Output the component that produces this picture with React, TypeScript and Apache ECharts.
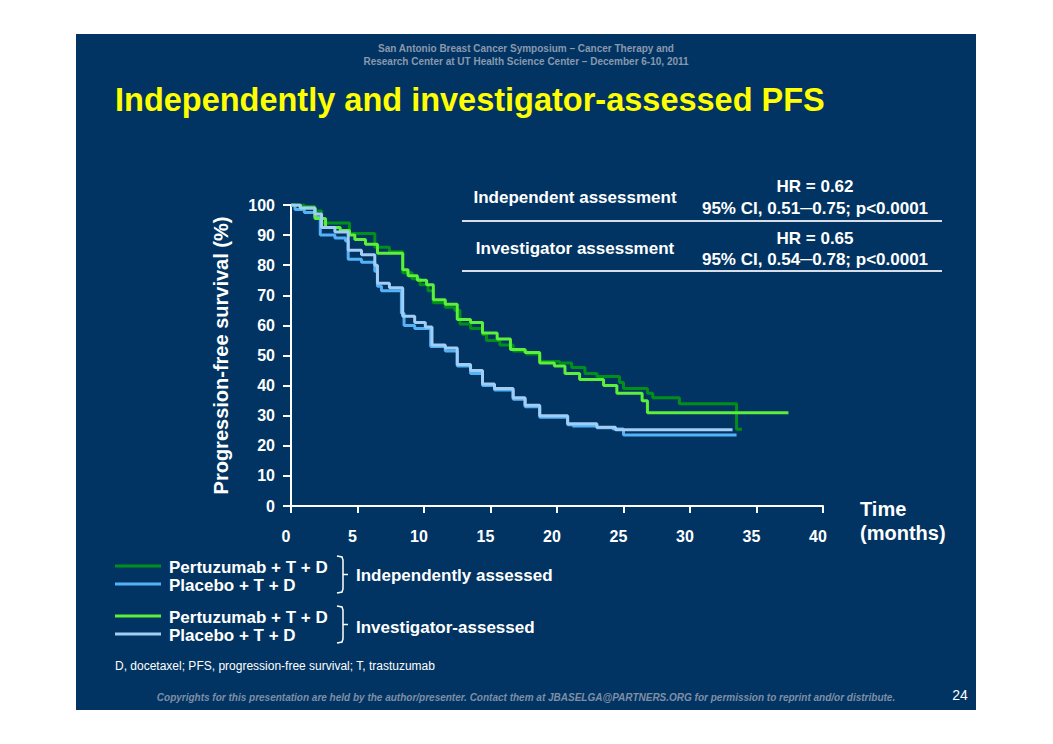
import React, { useEffect, useRef } from "react";
import * as echarts from "echarts";

// Kaplan-Meier step points: [months, PFS %] (value after the step at that time)
const pertuzumabIndependent: number[][] = [
  [0, 100], [1.0, 99.5], [1.8, 98], [2.3, 94], [4.4, 90.5], [6.3, 86], [7.4, 84.5],
  [8.4, 77.5], [9.1, 75.5], [9.7, 73.5], [10.3, 71.5], [10.7, 67.5], [11.6, 66],
  [12.3, 65], [12.7, 60.5], [13.5, 59], [14.4, 57], [14.7, 55], [15.7, 53.5],
  [16.7, 51.5], [17.7, 50.5], [18.7, 48], [20.2, 47.5], [21.1, 46], [22.1, 44],
  [23.0, 43], [24.7, 41], [25.0, 39], [26.8, 37.5], [27.2, 36], [29.2, 34],
  [33.5, 25.5], [33.9, 25.5],
];
const placeboIndependent: number[][] = [
  [0, 100], [0.3, 98.5], [1.0, 97.5], [1.8, 96], [2.2, 90], [3.3, 89], [4.1, 88],
  [4.3, 82], [5.3, 81], [6.3, 78], [6.5, 73], [6.8, 71.5], [8.3, 64], [8.5, 60],
  [9.3, 59], [10.5, 53], [11.6, 51.5], [12.5, 46.5], [13.5, 44], [14.4, 40],
  [15.3, 38.5], [16.7, 35.5], [17.6, 33], [18.7, 29.5], [20.8, 27], [21.2, 26.6],
  [23.0, 26], [24.2, 25.6], [25.0, 23.6], [33.5, 23.6],
];
const pertuzumabInvestigator: number[][] = [
  [0, 100], [0.7, 99], [1.8, 95.5], [2.6, 92.5], [3.7, 91.5], [4.4, 90], [4.8, 88.5],
  [5.6, 87], [6.5, 84], [8.4, 78.5], [8.8, 76.5], [9.5, 75], [10.2, 73.5],
  [10.7, 68.5], [11.6, 67], [12.5, 62], [13.5, 61], [14.4, 57.5], [15.5, 55.5],
  [16.5, 52], [17.6, 51], [18.7, 47.5], [19.8, 46.5], [20.6, 44], [21.7, 42],
  [23.5, 40], [24.5, 37.5], [26.4, 35], [26.8, 31], [37.4, 31],
];
const placeboInvestigator: number[][] = [
  [0, 100], [0.7, 99], [1.8, 97], [2.3, 92.5], [3.3, 91], [4.3, 85], [5.3, 83.5],
  [6.3, 80], [6.5, 74], [7.4, 72.5], [8.4, 63], [9.3, 61], [10.1, 59.5],
  [10.6, 53.5], [11.6, 52.5], [12.5, 47], [13.5, 45], [14.4, 40.5], [15.3, 39],
  [16.7, 36], [17.6, 33.5], [18.7, 30], [20.8, 27.3], [23.0, 26.2], [24.4, 25.3],
  [33.2, 25.3],
];

const seriesNames = [
  "Pertuzumab + T + D (independent)",
  "Placebo + T + D (independent)",
  "Pertuzumab + T + D (investigator)",
  "Placebo + T + D (investigator)",
];
const seriesColors = ["#008f1a", "#55b2f7", "#5cf03a", "#a2cdf4"];

const BG = "#013462";
const FONT = "'Liberation Sans', Arial, sans-serif";
const NARROW = "'Liberation Sans Narrow', 'Liberation Sans', Arial, sans-serif";

export default function App() {
  const ref = useRef<HTMLDivElement>(null);
  useEffect(() => {
    if (!ref.current) return;
    const chart = echarts.init(ref.current, undefined, { renderer: "svg" });
    const datasets = [
      pertuzumabIndependent,
      placeboIndependent,
      pertuzumabInvestigator,
      placeboInvestigator,
    ];
    const white = "#ffffff";
    const txt = (x: number, y: number, text: string, o: any = {}) => ({
      type: "text",
      x,
      y,
      silent: true,
      style: {
        text,
        fill: o.fill || white,
        font: o.font || `bold 17px ${FONT}`,
        textAlign: o.align || "left",
        textVerticalAlign: "middle",
      },
      z: 10,
    });
    const bracket = (x: number, y1: number, y2: number) => {
      const m = (y1 + y2) / 2;
      return [
        {
          type: "polyline",
          silent: true,
          shape: { points: [[x, y1], [x + 5, y1 + 1], [x + 6, y1 + 4], [x + 6, y2 - 4], [x + 5, y2 - 1], [x, y2]] },
          style: { stroke: white, lineWidth: 1.5, fill: "none" },
          z: 10,
        },
        {
          type: "line",
          silent: true,
          shape: { x1: x + 6, y1: m, x2: x + 11, y2: m },
          style: { stroke: white, lineWidth: 1.5 },
          z: 10,
        },
      ];
    };
    const legendLine = (y: number, color: string) => ({
      type: "line",
      silent: true,
      shape: { x1: 115, y1: y, x2: 161, y2: y },
      style: { stroke: color, lineWidth: 3 },
      z: 10,
    });
    chart.setOption({
      animation: false,
      backgroundColor: "#ffffff",
      grid: { left: 291, right: 230, top: 205, bottom: 238, containLabel: false },
      xAxis: {
        type: "value",
        min: 0,
        max: 40,
        interval: 5,
        axisLine: { show: true, onZero: false, lineStyle: { color: white, width: 2 } },
        axisTick: { show: true, length: 7, lineStyle: { color: white, width: 2 } },
        axisLabel: {
          color: white, fontSize: 16, fontWeight: "bold", fontFamily: FONT, margin: 22,
          padding: [0, 10, 0, 0],
        },
        splitLine: { show: false },
      },
      yAxis: {
        type: "value",
        min: 0,
        max: 100,
        interval: 10,
        name: "Progression-free survival (%)",
        nameLocation: "middle",
        nameGap: 60,
        nameTextStyle: { color: white, fontSize: 20, fontWeight: "bold", fontFamily: FONT },
        axisLine: { show: true, lineStyle: { color: white, width: 2 } },
        axisTick: { show: true, length: 8, lineStyle: { color: white, width: 2 } },
        axisLabel: { color: white, fontSize: 16, fontWeight: "bold", fontFamily: FONT, margin: 16 },
        splitLine: { show: false },
      },
      series: datasets.map((d, i) => ({
        name: seriesNames[i],
        type: "line",
        step: "end",
        data: d,
        symbol: "none",
        lineStyle: { color: seriesColors[i], width: 3 },
        z: 3 + i,
      })),
      graphic: [
        {
          type: "rect",
          silent: true,
          shape: { x: 76, y: 34, width: 900, height: 676 },
          style: { fill: BG },
          z: -10,
        },
        txt(526, 48, "San Antonio Breast Cancer Symposium – Cancer Therapy and", {
          font: `bold 10px ${NARROW}`, fill: "#8a98ad", align: "center",
        }),
        txt(526, 61, "Research Center at UT Health Science Center – December 6-10, 2011", {
          font: `bold 10px ${NARROW}`, fill: "#8a98ad", align: "center",
        }),
        txt(115, 100, "Independently and investigator-assessed PFS", {
          font: `bold 32.5px ${FONT}`, fill: "#ffff00",
        }),
        txt(575, 197, "Independent assessment", { align: "center" }),
        txt(815, 186, "HR = 0.62", { align: "center" }),
        txt(815, 208, "95% CI, 0.51─0.75; p<0.0001", { align: "center" }),
        {
          type: "line", silent: true,
          shape: { x1: 462, y1: 221, x2: 942, y2: 221 },
          style: { stroke: "#d8dee8", lineWidth: 2 }, z: 10,
        },
        txt(575, 248, "Investigator assessment", { align: "center" }),
        txt(815, 238, "HR = 0.65", { align: "center" }),
        txt(815, 259, "95% CI, 0.54─0.78; p<0.0001", { align: "center" }),
        {
          type: "line", silent: true,
          shape: { x1: 462, y1: 271, x2: 942, y2: 271 },
          style: { stroke: "#d8dee8", lineWidth: 2 }, z: 10,
        },
        txt(860, 509, "Time", { font: `bold 20px ${FONT}` }),
        txt(860, 533, "(months)", { font: `bold 20px ${FONT}` }),
        legendLine(566, seriesColors[0]),
        legendLine(584, seriesColors[1]),
        legendLine(616, seriesColors[2]),
        legendLine(634, seriesColors[3]),
        txt(169, 567, "Pertuzumab + T + D"),
        txt(169, 585, "Placebo + T + D"),
        txt(169, 617, "Pertuzumab + T + D"),
        txt(169, 635, "Placebo + T + D"),
        ...bracket(337, 556, 593),
        ...bracket(337, 606, 643),
        txt(356, 575, "Independently assessed"),
        txt(356, 627, "Investigator-assessed"),
        txt(115, 666, "D, docetaxel; PFS, progression-free survival; T, trastuzumab", {
          font: `12px ${NARROW}`,
        }),
        txt(526, 697, "Copyrights for this presentation are held by the author/presenter. Contact them at JBASELGA@PARTNERS.ORG for permission to reprint and/or distribute.", {
          font: `italic bold 10px ${NARROW}`, fill: "#7f8ea6", align: "center",
        }),
        txt(960, 695, "24", { font: `14px ${FONT}`, align: "center" }),
      ],
    });
    return () => chart.dispose();
  }, []);
  return (
    <div
      ref={ref}
      style={{ position: "fixed", left: 0, top: 0, width: 1053, height: 744 }}
    />
  );
}
